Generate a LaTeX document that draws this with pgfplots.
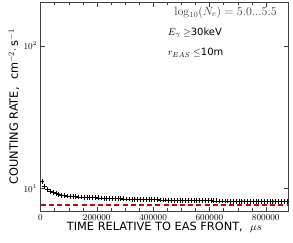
\documentclass[border=0pt]{standalone}
\usepackage{pgfplots}
\pgfplotsset{compat=1.18}
\usepackage{fontspec}
\newfontfamily\dejavu{DejaVu Sans}
\definecolor{dred}{RGB}{175,15,15}
\begin{document}
\begin{tikzpicture}
\begin{axis}[
  scale only axis,
  width=247.8bp, height=208bp,
  xmin=0, xmax=880000,
  ymode=log, ymin=7, ymax=200,
  log basis y=10,
  xtick={0,200000,400000,600000,800000},
  minor x tick num=3,
  scaled x ticks=false,
  xticklabel style={/pgf/number format/fixed,/pgf/number format/set thousands separator={}},
  ytick={10,100},
  yticklabels={$10^1$,$10^2$},
  tick label style={font=\fontsize{8.6}{10}\selectfont},
  tick align=inside,
  ticks=both,
  axis line style={black!75},
  tick style={black!75},
  major tick length=4bp, minor tick length=2.5bp,
  xlabel={{\dejavu TIME RELATIVE TO EAS FRONT,}\ \ $\mu s$},
  ylabel={{\dejavu COUNTING RATE,}\ \ {\dejavu cm}$^{-2}\cdot$\,{\dejavu s}$^{-1}$},
  label style={font=\fontsize{11.4}{13}\selectfont},
  xlabel style={yshift=4.5bp},
  ylabel style={yshift=-2.5bp},
  clip=true,
]
\addplot[dred, line width=1.7pt, dash pattern=on 5bp off 3.2bp] coordinates {(0,7.65) (880000,7.65)};
\addplot[only marks, mark=+, mark size=2.4bp, black, mark options={line width=0.7pt},
  error bars/.cd, y dir=both, y fixed=0.15, error bar style={black!45, line width=0.6pt}, error mark=none] coordinates {
(5000,11.2) (15000,10.3) (25000,9.9) (35000,9.55) (45000,9.35) (55000,9.2) (65000,9.1) (75000,9.0)
(85000,8.93) (95000,8.88) (105000,8.84) (115000,8.80) (125000,8.77) (135000,8.74) (145000,8.72)
(155000,8.70) (165000,8.68) (175000,8.66) (185000,8.64) (195000,8.62) (205000,8.61) (215000,8.59)
(225000,8.57) (235000,8.56) (245000,8.54) (255000,8.53) (265000,8.51) (275000,8.50) (285000,8.48)
(295000,8.47) (305000,8.45) (315000,8.44) (325000,8.43) (335000,8.42) (345000,8.41) (355000,8.40)
(365000,8.39) (375000,8.38) (385000,8.37) (395000,8.36) (405000,8.35) (415000,8.34) (425000,8.33)
(435000,8.32) (445000,8.31) (455000,8.30) (465000,8.30) (475000,8.29) (485000,8.28) (495000,8.27)
(505000,8.27) (515000,8.26) (525000,8.25) (535000,8.25) (545000,8.24) (555000,8.23) (565000,8.23)
(575000,8.22) (585000,8.22) (595000,8.21) (605000,8.21) (615000,8.20) (625000,8.20) (635000,8.19)
(645000,8.19) (655000,8.18) (665000,8.18) (675000,8.17) (685000,8.17) (695000,8.17) (705000,8.16)
(715000,8.16) (725000,8.15) (735000,8.15) (745000,8.15) (755000,8.14) (765000,8.14) (775000,8.14)
(785000,8.13) (795000,8.13) (805000,8.13) (815000,8.12) (825000,8.12) (835000,8.12) (845000,8.11)
(855000,8.11) (865000,8.11) (875000,8.10)
};
\node[anchor=east, font=\fontsize{12}{14}\selectfont, text=black!75] at (rel axis cs:0.967,0.955) {$\log_{10}(N_e)=5.0...5.5$};
\node[anchor=west, font=\fontsize{10}{12}\selectfont] at (rel axis cs:0.5,0.854) {$E_\gamma\geq${\dejavu 30keV}};
\node[anchor=west, font=\fontsize{10}{12}\selectfont] at (rel axis cs:0.5,0.758) {$r_{EAS}\leq${\dejavu 10m}};
\end{axis}
\path ([shift={(-40.5bp,-31.3bp)}]current axis.south west) rectangle ([shift={(4.7bp,2.7bp)}]current axis.north east);
\end{tikzpicture}
\end{document}
